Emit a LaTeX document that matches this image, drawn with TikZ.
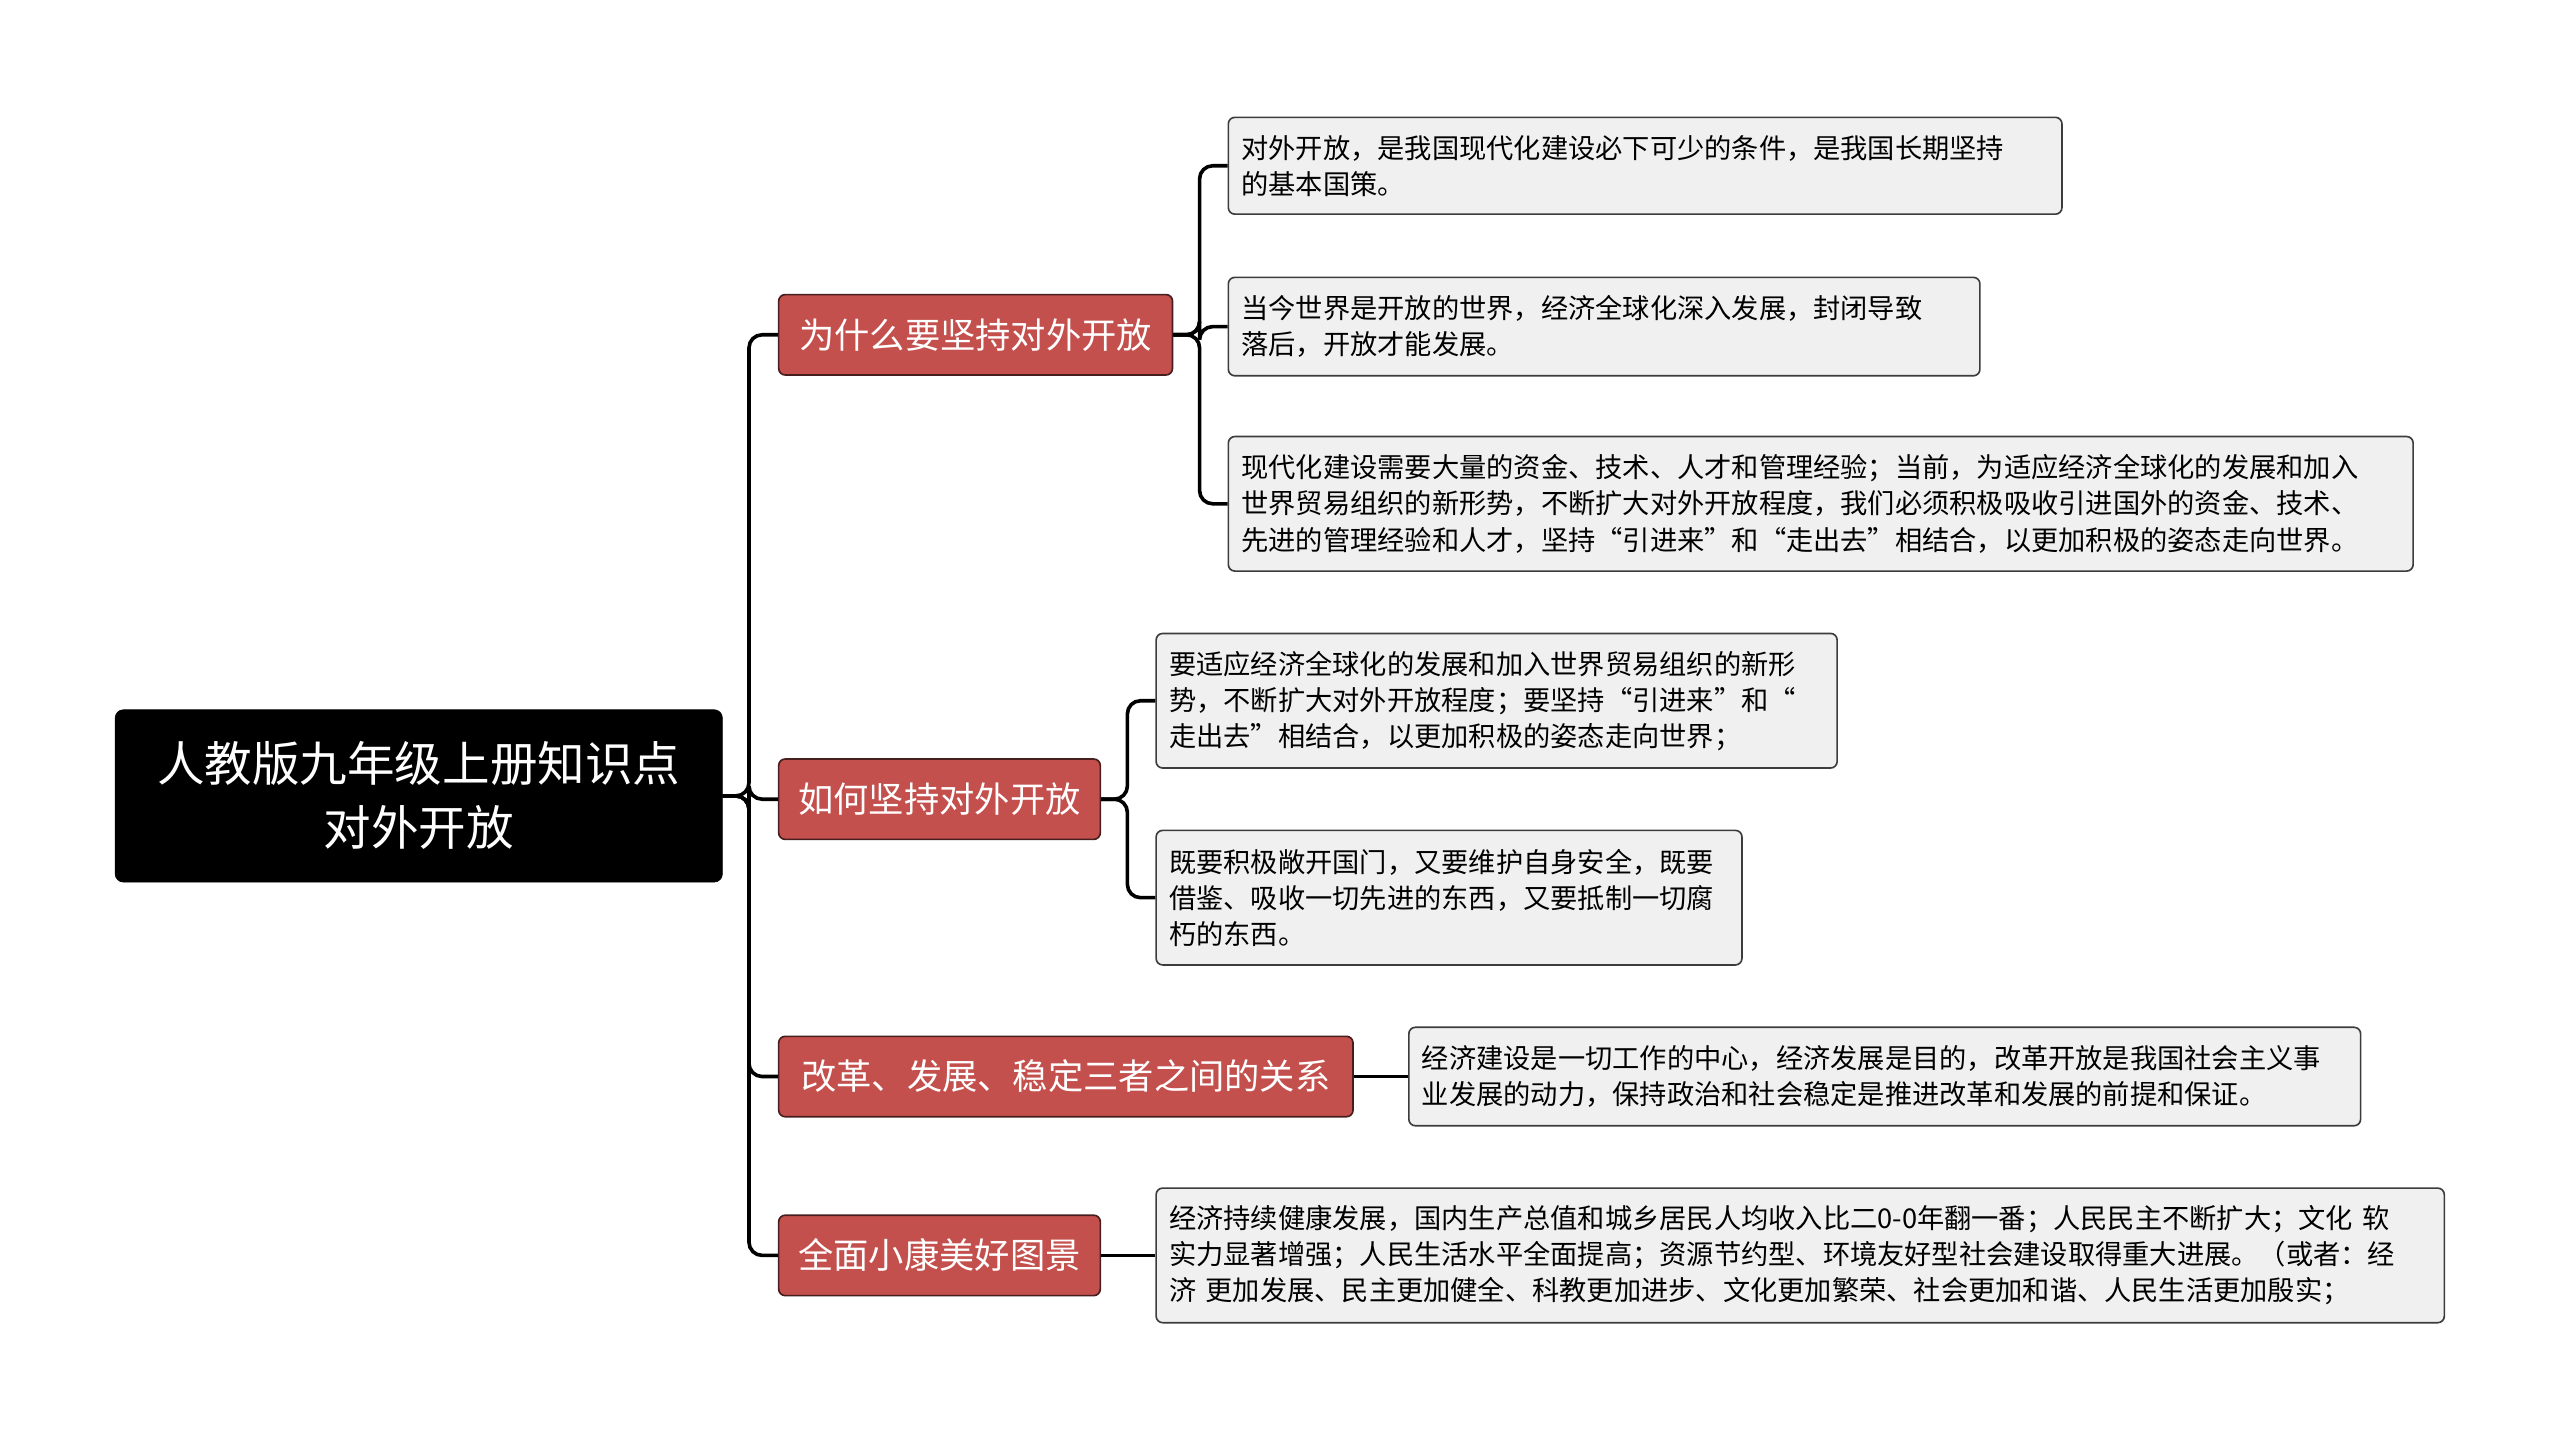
\documentclass[tikz,border=0pt]{standalone}
\usepackage{fontspec}
\setmainfont{Noto Sans CJK SC}
\begin{document}
\begin{tikzpicture}[x=1pt,y=-1pt,
  root/.style={fill=black,draw=black,rounded corners=5pt,text=white,align=center,font=\fontsize{29}{39}\selectfont,minimum width=370pt,minimum height=105pt,anchor=west},
  br/.style={fill={rgb,255:red,196;green,80;blue,77},draw={rgb,255:red,70;green,30;blue,30},line width=1pt,rounded corners=4pt,text=white,font=\fontsize{21.5}{24}\selectfont,minimum height=49pt,inner xsep=10pt,anchor=west},
  leaf/.style={fill={rgb,255:red,240;green,240;blue,240},draw={rgb,255:red,60;green,60;blue,60},line width=1pt,rounded corners=4pt,font=\fontsize{16.6}{22}\selectfont,align=left,inner xsep=8pt,inner ysep=6pt,anchor=west},
  conn/.style={draw=black,line width=2.2pt,rounded corners=8pt}]
\useasboundingbox (3,3) rectangle (1563,882);
\node[root] (r) at (73,488) {人教版九年级上册知识点\\对外开放};
\node[br,minimum width=240pt] (b1) at (477,207) {为什么要坚持对外开放};
\node[br,minimum width=196pt] (b2) at (477,490) {如何坚持对外开放};
\node[br,minimum width=350pt] (b3) at (477,659) {改革、发展、稳定三者之间的关系};
\node[br,minimum width=196pt] (b4) at (477,768) {全面小康美好图景};
\node[leaf,text width=492pt,minimum height=59pt] (l1) at (751,104) {对外开放，是我国现代化建设必下可少的条件，是我国长期坚持\\的基本国策。};
\node[leaf,text width=442pt,minimum height=60pt] (l2) at (751,202) {当今世界是开放的世界，经济全球化深入发展，封闭导致\\落后，开放才能发展。};
\node[leaf,text width=706pt,minimum height=82pt] (l3) at (751,310) {现代化建设需要大量的资金、技术、人才和管理经验；当前，为适应经济全球化的发展和加入\\世界贸易组织的新形势，不断扩大对外开放程度，我们必须积极吸收引进国外的资金、技术、\\先进的管理经验和人才，坚持“引进来”和“走出去”相结合，以更加积极的姿态走向世界。};
\node[leaf,text width=399pt,minimum height=82pt] (l4) at (707,430) {要适应经济全球化的发展和加入世界贸易组织的新形\\势，不断扩大对外开放程度；要坚持“引进来”和“\\走出去”相结合，以更加积极的姿态走向世界；};
\node[leaf,text width=341pt,minimum height=82pt] (l5) at (707,550) {既要积极敞开国门，又要维护自身安全，既要\\借鉴、吸收一切先进的东西，又要抵制一切腐\\朽的东西。};
\node[leaf,text width=564pt,minimum height=60pt] (l6) at (861,659) {经济建设是一切工作的中心，经济发展是目的，改革开放是我国社会主义事\\业发展的动力，保持政治和社会稳定是推进改革和发展的前提和保证。};
\node[leaf,text width=769pt,minimum height=82pt] (l7) at (707,768) {经济持续健康发展，国内生产总值和城乡居民人均收入比二0-0年翻一番；人民民主不断扩大；文化 软\\实力显著增强；人民生活水平全面提高；资源节约型、环境友好型社会建设取得重大进展。（或者：经\\济 更加发展、民主更加健全、科教更加进步、文化更加繁荣、社会更加和谐、人民生活更加殷实；};
\foreach \b in {b1,b2,b3,b4} \draw[conn] (r.east) -- ++(16,0) |- (\b.west);
\foreach \l in {l1,l2,l3} \draw[conn] (b1.east) -- ++(16,0) |- (\l.west);
\foreach \l in {l4,l5} \draw[conn] (b2.east) -- ++(16,0) |- (\l.west);
\draw[conn] (b3.east) -- (l6.west);
\draw[conn] (b4.east) -- (l7.west);
\end{tikzpicture}
\end{document}
